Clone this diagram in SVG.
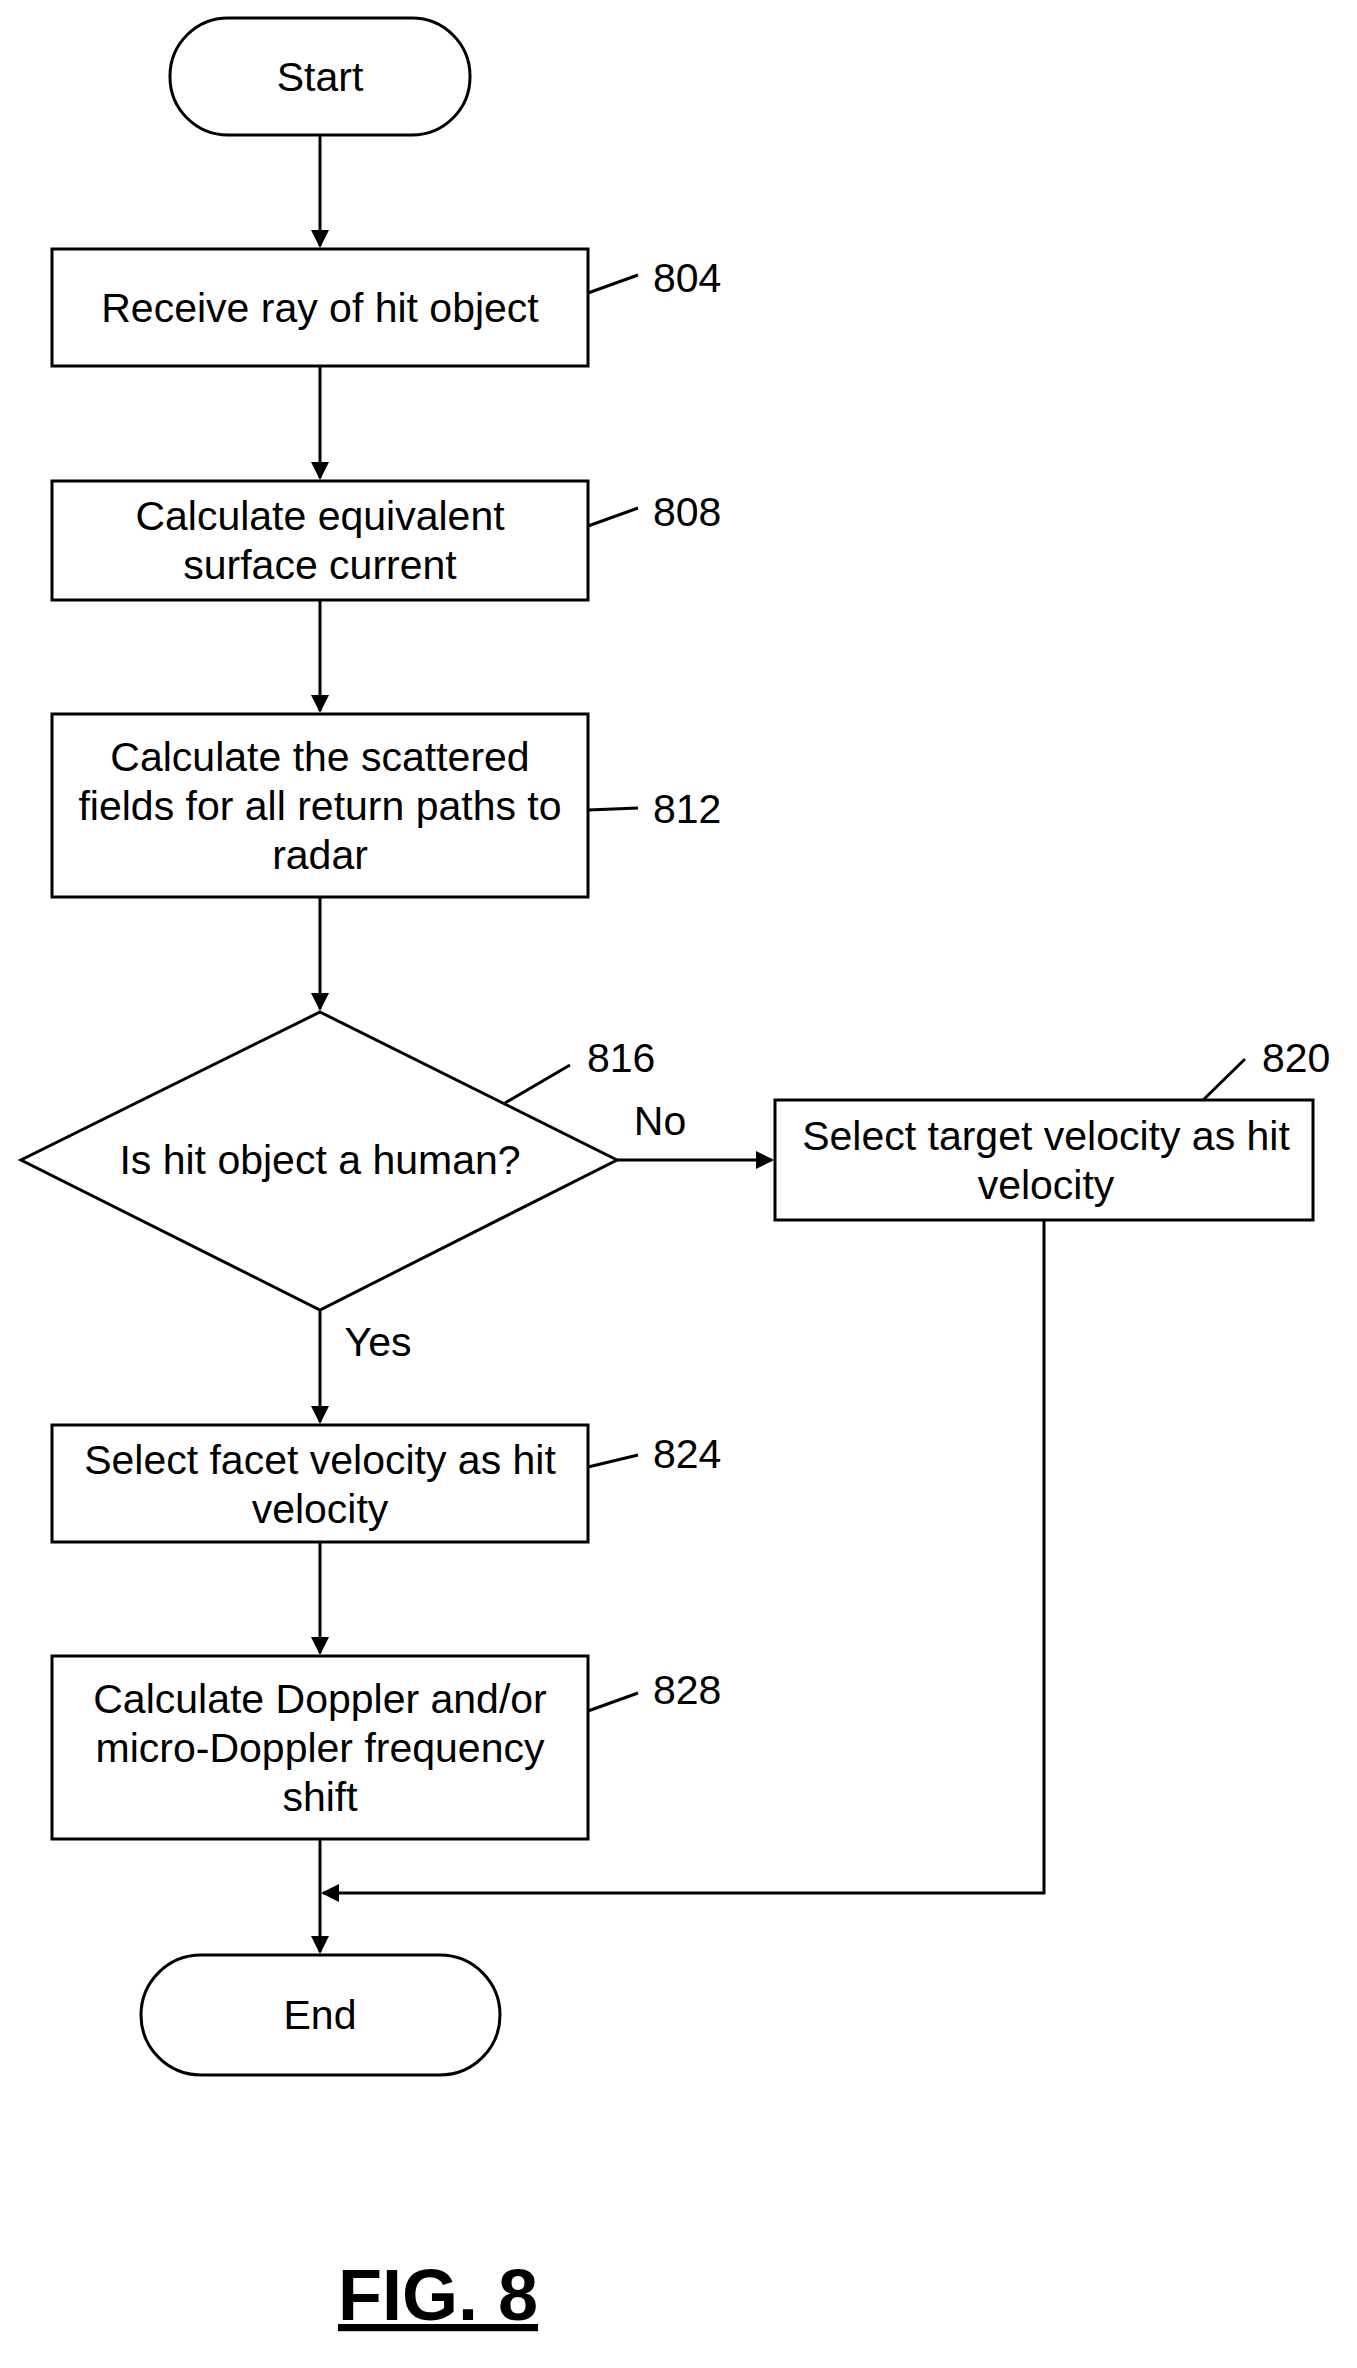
<svg xmlns="http://www.w3.org/2000/svg" width="1357" height="2368" viewBox="0 0 1357 2368">
<style>
.s{fill:#fff;stroke:#000;stroke-width:3}
.l{fill:none;stroke:#000;stroke-width:3}
text{font-family:"Liberation Sans",Arial,sans-serif;font-size:41px;fill:#000;text-anchor:middle}
.n{text-anchor:start}
</style>
<rect width="1357" height="2368" fill="#fff"/>
<g id="connectors">
<path class="l" d="M320,135V246"/>
<path class="l" d="M320,366V478"/>
<path class="l" d="M320,600V711"/>
<path class="l" d="M320,897V1009"/>
<path class="l" d="M617,1160H772"/>
<path class="l" d="M320,1310V1422"/>
<path class="l" d="M320,1542V1653"/>
<path class="l" d="M320,1839V1952"/>
<path class="l" d="M1044,1220V1893H323"/>
<path class="l" d="M588,293L638,275M588,526L638,508M588,810L638,808M505,1103L570,1065M1200,1103L1245,1059M588,1467L638,1455M588,1711L638,1693"/>
<g fill="#000">
<path d="M311,230L320,248L329,230z"/><path d="M311,462L320,480L329,462z"/><path d="M311,695L320,713L329,695z"/><path d="M311,993L320,1011L329,993z"/><path d="M756,1151L774,1160L756,1169z"/><path d="M311,1406L320,1424L329,1406z"/><path d="M311,1637L320,1655L329,1637z"/><path d="M311,1936L320,1954L329,1936z"/><path d="M339,1884L321,1893L339,1902z"/>
</g>
</g>
<g id="start"><rect class="s" x="170" y="18" width="300" height="117" rx="58"/><text x="320" y="91">Start</text></g>
<g id="n804"><rect class="s" x="52" y="249" width="536" height="117"/><text x="320" y="322">Receive ray of hit object</text><text class="n" x="653" y="292">804</text></g>
<g id="n808"><rect class="s" x="52" y="481" width="536" height="119"/><text x="320" y="530">Calculate equivalent</text><text x="320" y="579">surface current</text><text class="n" x="653" y="526">808</text></g>
<g id="n812"><rect class="s" x="52" y="714" width="536" height="183"/><text x="320" y="771">Calculate the scattered</text><text x="320" y="820">fields for all return paths to</text><text x="320" y="869">radar</text><text class="n" x="653" y="823">812</text></g>
<g id="n816"><path class="s" d="M320,1012L617,1160L320,1310L21,1160z"/><text x="320" y="1174">Is hit object a human?</text><text class="n" x="587" y="1072">816</text><text x="660" y="1135">No</text><text x="378" y="1356">Yes</text></g>
<g id="n820"><rect class="s" x="775" y="1100" width="538" height="120"/><text x="1046" y="1150">Select target velocity as hit</text><text x="1046" y="1199">velocity</text><text class="n" x="1262" y="1072">820</text></g>
<g id="n824"><rect class="s" x="52" y="1425" width="536" height="117"/><text x="320" y="1474">Select facet velocity as hit</text><text x="320" y="1523">velocity</text><text class="n" x="653" y="1468">824</text></g>
<g id="n828"><rect class="s" x="52" y="1656" width="536" height="183"/><text x="320" y="1713">Calculate Doppler and/or</text><text x="320" y="1762">micro-Doppler frequency</text><text x="320" y="1811">shift</text><text class="n" x="653" y="1704">828</text></g>
<g id="end"><rect class="s" x="141" y="1955" width="359" height="120" rx="60"/><text x="320" y="2029">End</text></g>
<text x="438" y="2320" style="font-size:72px;font-weight:bold;text-decoration:underline">FIG. 8</text>
</svg>
